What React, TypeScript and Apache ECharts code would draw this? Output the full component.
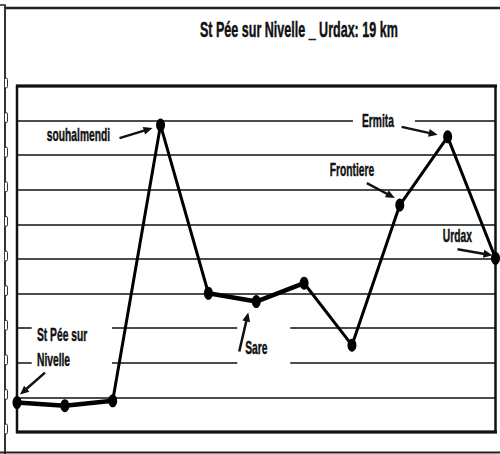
import React, { useEffect, useRef } from 'react';
import * as echarts from 'echarts';

// ---- data ----
const categories = ['1', '2', '3', '4', '5', '6', '7', '8', '9', '10', '11'];
const elevations = [0.85, 0.76, 0.9, 8.87, 4.01, 3.77, 4.3, 2.51, 6.56, 8.53, 5.02];
const thickIdx = [0, 1, 2, 4, 5, 6];
const yMin = 0;
const yMax = 10;
const yInterval = 1;
const titleText = 'St Pée sur Nivelle _ Urdax: 19 km';
const labelTexts = [['St Pée sur', 'Nivelle'], ['souhalmendi'], ['Sare'], ['Frontiere'], ['Ermita'], ['Urdax']];
const labelPoints = [0, 3, 5, 8, 9, 10];

// ---- layout (pixel offsets relative to the anchored data point) ----
const LAYOUT: any[] = [
  { text: [20, -67.7], lineGap: 25, tail: [28, -30], head: [3, -8], gap: [14.7, -85, 95, -33] },
  { text: [-113.7, 10], tail: [-41, 13], head: [-8, 3] },
  { text: [-11, 45.8], tail: [-17, 50], head: [-8, 11], gap: [-19, 16, 34, 70] },
  { text: [-70, -35.3], tail: [-33, -22], head: [-5, -7] },
  { text: [-85.7, -15.7], tail: [-46, -10], head: [-10, -2], gap: [-94.7, -23.7, -32.7, -8.7] },
  { text: [-52.7, -22.8], tail: [-38, -9], head: [-3, -3] },
];
const INK = '#111';
const FONT = '"Liberation Sans", Arial, sans-serif';
const SQUEEZE = 0.57;

function arrow(t: number[], h: number[], z: number) {
  const dx = h[0] - t[0];
  const dy = h[1] - t[1];
  const L = Math.hypot(dx, dy) || 1;
  const ux = dx / L;
  const uy = dy / L;
  const hl = 9;
  const hw = 4;
  const bx = h[0] - ux * hl;
  const by = h[1] - uy * hl;
  return [
    { type: 'line', z, shape: { x1: t[0], y1: t[1], x2: bx + ux, y2: by + uy }, style: { stroke: INK, lineWidth: 2.5 } },
    {
      type: 'polygon', z,
      shape: { points: [[h[0], h[1]], [bx - uy * hw, by + ux * hw], [bx + uy * hw, by - ux * hw]] },
      style: { fill: INK },
    },
  ];
}

function textEl(text: string, x: number, y: number, size: number, z: number) {
  return {
    type: 'text', x, y, scaleX: SQUEEZE, z,
    style: {
      text, fill: INK, stroke: INK, lineWidth: 0.45, fontFamily: FONT, fontWeight: 'bold', fontSize: size,
      textAlign: 'left', verticalAlign: 'middle', textVerticalAlign: 'middle',
    },
  };
}

export default function App() {
  const ref = useRef<HTMLDivElement>(null);
  useEffect(() => {
    if (!ref.current) return;
    const chart = echarts.init(ref.current, undefined, { renderer: 'svg' });
    const thick = elevations.map((v, i) => (thickIdx.includes(i) ? v : null));
    chart.setOption({
      animation: false,
      grid: { left: 17, right: 4.5, top: 86, bottom: 22, show: true, borderColor: INK, borderWidth: 2.5, backgroundColor: 'transparent' },
      xAxis: {
        type: 'category', data: categories, boundaryGap: false,
        axisLine: { show: false }, axisTick: { show: false }, axisLabel: { show: false }, splitLine: { show: false },
      },
      yAxis: {
        type: 'value', min: yMin, max: yMax, interval: yInterval,
        axisLine: { show: false }, axisTick: { show: false }, axisLabel: { show: false },
        splitLine: { show: true, lineStyle: { color: INK, width: 1.5 } },
      },
      series: [
        {
          type: 'line', data: elevations, z: 3,
          lineStyle: { color: '#000', width: 3 }, itemStyle: { color: '#000' },
          symbol: 'circle', symbolSize: [9, 13],
        },
        {
          type: 'line', data: thick, z: 3, connectNulls: false,
          lineStyle: { color: '#000', width: 4.5 }, symbol: 'none',
        },
      ],
    });

    const g: any[] = [];
    // outer frame
    g.push({ type: 'line', z: 5, shape: { x1: 0, y1: 5, x2: 5, y2: 5 }, style: { stroke: '#222', lineWidth: 1.5 } });
    g.push({ type: 'line', z: 5, shape: { x1: 4, y1: 8, x2: 500, y2: 8 }, style: { stroke: '#222', lineWidth: 2.5 } });
    g.push({ type: 'line', z: 5, shape: { x1: 5, y1: 4.5, x2: 5, y2: 454 }, style: { stroke: '#333', lineWidth: 2 } });
    g.push({ type: 'line', z: 5, shape: { x1: 0, y1: 452.5, x2: 500, y2: 452.5 }, style: { stroke: '#222', lineWidth: 2 } });
    // heavier top/bottom edges of the plot box
    const top = chart.convertToPixel({ yAxisIndex: 0 }, yMax) as number;
    const bot = chart.convertToPixel({ yAxisIndex: 0 }, yMin) as number;
    g.push({ type: 'line', z: 4, shape: { x1: 16, y1: top, x2: 497, y2: top }, style: { stroke: INK, lineWidth: 3.2 } });
    g.push({ type: 'line', z: 4, shape: { x1: 16, y1: bot, x2: 497, y2: bot }, style: { stroke: INK, lineWidth: 3.2 } });
    for (let v = yMin; v <= yMax; v += yInterval) {
      const py = chart.convertToPixel({ yAxisIndex: 0 }, v) as number;
      g.push({
        type: 'rect', z: 6,
        shape: { x: 4.5, y: py - 3 - 5, width: 3, height: 10, r: 1.5 },
        style: { fill: '#fff', stroke: '#333', lineWidth: 1 },
      });
    }
    // title
    g.push(textEl(titleText, 200, 29.5, 22, 10));

    labelPoints.forEach((pi, k) => {
      const p = chart.convertToPixel({ seriesIndex: 0 }, [pi, elevations[pi]]) as number[];
      const L = LAYOUT[k];
      if (L.gap) {
        g.push({
          type: 'rect', z: 1,
          shape: { x: p[0] + L.gap[0], y: p[1] + L.gap[1], width: L.gap[2] - L.gap[0], height: L.gap[3] - L.gap[1] },
          style: { fill: '#fff' },
        });
      }
      labelTexts[k].forEach((t, j) => {
        g.push(textEl(t, p[0] + L.text[0], p[1] + L.text[1] + j * (L.lineGap || 0), 18, 10));
      });
      g.push(...arrow([p[0] + L.tail[0], p[1] + L.tail[1]], [p[0] + L.head[0], p[1] + L.head[1]], 10));
    });

    chart.setOption({ graphic: g });
    return () => chart.dispose();
  }, []);
  return <div ref={ref} style={{ position: 'absolute', left: 0, top: 0, width: 500, height: 454, background: '#fff' }} />;
}
